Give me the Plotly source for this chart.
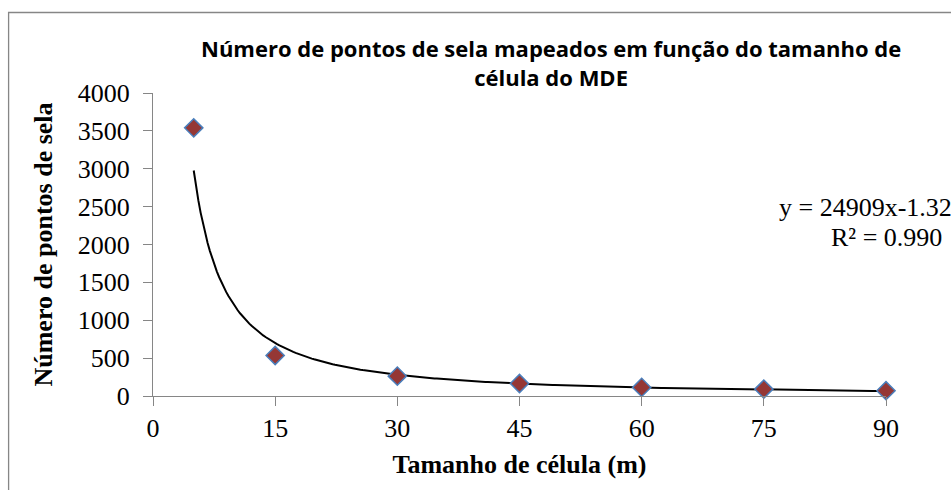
import numpy as np
import plotly.graph_objects as go

# Cell size of the DEM (m) and number of saddle points mapped
cell_size = [5, 15, 30, 45, 60, 75, 90]
saddle_points = [3540, 535, 262, 165, 113, 91, 70]

# Power trendline reported on the chart: y = a * x^b
trend_a = 24909
trend_b = -1.32
r_squared = 0.990

x_ticks = [0, 15, 30, 45, 60, 75, 90]
y_ticks = [0, 500, 1000, 1500, 2000, 2500, 3000, 3500, 4000]

x_fit = np.linspace(min(cell_size), max(cell_size), 300)
y_fit = trend_a * x_fit ** trend_b

serif = "Liberation Serif, Times New Roman, serif"
axis_grey = "#868686"

fig = go.Figure()
fig.add_trace(go.Scatter(
    x=x_fit, y=y_fit, mode="lines",
    line=dict(color="black", width=2),
    hoverinfo="skip", showlegend=False, cliponaxis=False,
))
fig.add_trace(go.Scatter(
    x=cell_size, y=saddle_points, mode="markers",
    marker=dict(symbol="diamond", size=14, color="#953735",
                line=dict(color="#4A7EBB", width=1.5)),
    showlegend=False, cliponaxis=False,
))

fig.update_layout(
    width=951, height=490,
    margin=dict(l=153, r=65, t=93, b=94),
    paper_bgcolor="white", plot_bgcolor="white",
    font=dict(family=serif, color="black"),
    showlegend=False,
)

fig.update_xaxes(
    range=[0, 90], tickvals=x_ticks, ticktext=[str(v) for v in x_ticks],
    showgrid=False, zeroline=False,
    showline=True, linecolor=axis_grey, linewidth=1.3,
    ticks="outside", ticklen=9, tickcolor=axis_grey, tickwidth=1.3,
    tickfont=dict(family=serif, size=26), ticklabelstandoff=0,
    title=dict(text="<b>Tamanho de célula (m)</b>",
               font=dict(family=serif, size=26), standoff=12),
)
fig.update_yaxes(
    range=[0, 4000], tickvals=y_ticks, ticktext=[str(v) for v in y_ticks],
    showgrid=False, zeroline=False,
    showline=True, linecolor=axis_grey, linewidth=1.3,
    ticks="outside", ticklen=9, tickcolor=axis_grey, tickwidth=1.3,
    tickfont=dict(family=serif, size=26), ticklabelstandoff=8,
    title=dict(text="<b>Número de pontos de sela</b>",
               font=dict(family=serif, size=26), standoff=17),
)

# Chart frame
fig.add_shape(type="rect", xref="paper", yref="paper",
              x0=-0.197, x1=2.0, y0=-2.0, y1=1.2657,
              line=dict(color=axis_grey, width=1.3), layer="below")

# Chart title
fig.add_annotation(
    xref="paper", yref="paper", x=0.543, y=1.1007,
    xanchor="center", yanchor="middle", showarrow=False,
    text="<b>Número de pontos de sela mapeados em função do tamanho de<br>célula do MDE</b>",
    font=dict(family="Open Sans, sans-serif", size=22, color="black"),
)

# Trendline equation and R²
fig.add_annotation(
    xref="paper", yref="paper", x=0.8513, y=0.6205,
    xanchor="left", yanchor="middle", showarrow=False,
    text=f"y = {trend_a}x{trend_b}",
    font=dict(family=serif, size=26, color="black"),
)
fig.add_annotation(
    xref="paper", yref="paper", x=1.0, y=0.5245,
    xanchor="center", yanchor="middle", showarrow=False,
    text=f"R² = {r_squared:.3f}",
    font=dict(family=serif, size=26, color="black"),
)

fig.write_html("out.html")
